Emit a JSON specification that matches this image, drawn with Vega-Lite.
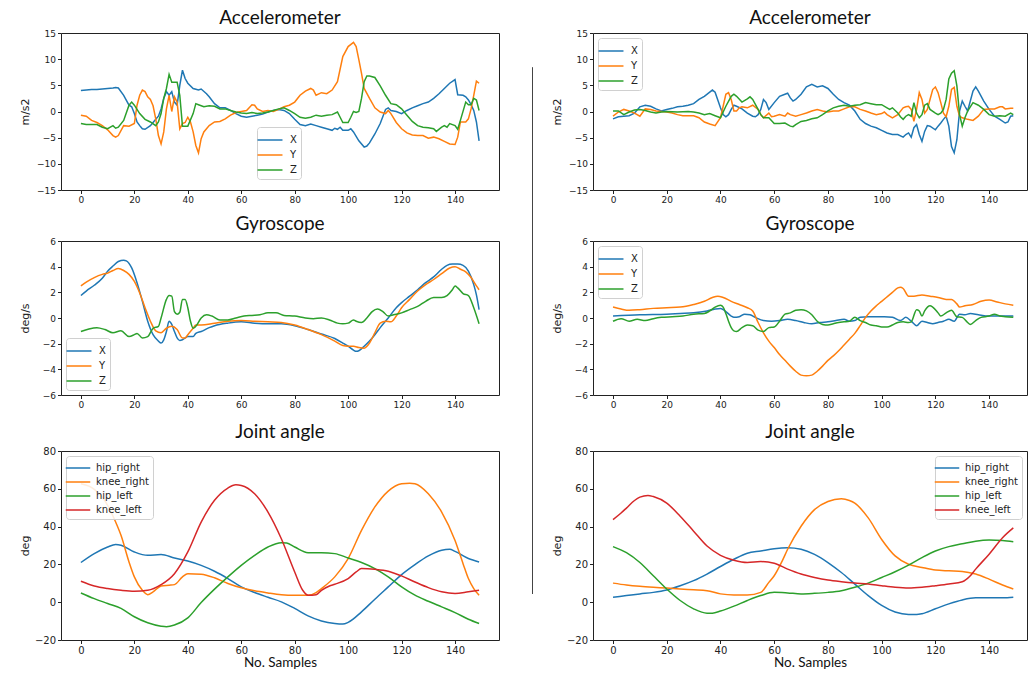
{
"$schema":"https://vega.github.io/schema/vega-lite/v6.json",
"padding":{"left":18,"top":8,"right":0,"bottom":0},
"config":{
"font":"DejaVu Sans",
"view":{"stroke":"#222","strokeWidth":1},
"axis":{"grid":false,"domain":false,"tickColor":"#222","tickSize":3.5,"tickWidth":1,"labelFont":"DejaVu Sans","labelFontSize":9,"labelColor":"#222","labelPadding":2,"titleFont":"DejaVu Sans","titleFontSize":11,"titleFontWeight":"normal","titleColor":"#222"},
"axisY":{"minExtent":24,"maxExtent":24,"titlePadding":7},
"axisX":{"titleFont":"Lato","titleFontSize":13.5,"titlePadding":0,"titleColor":"#111"},
"title":{"font":"Lato","fontSize":19,"fontWeight":"normal","color":"#111"},
"legend":{"strokeColor":"#d0d0d0","fillColor":"rgba(255,255,255,0.85)","cornerRadius":3,"padding":4,"labelFont":"DejaVu Sans","labelFontSize":10,"labelColor":"#222","symbolType":"M-1.56,0H1.56","symbolSize":256,"symbolStrokeWidth":1.5,"labelOffset":11,"rowPadding":1,"offset":5}
},
"datasets":{
"la":[
{"t":0,"s":"X","v":4.0},{"t":2,"s":"X","v":4.1},{"t":4,"s":"X","v":4.2},{"t":6,"s":"X","v":4.2},{"t":8,"s":"X","v":4.3},{"t":10,"s":"X","v":4.4},{"t":12,"s":"X","v":4.5},{"t":13,"s":"X","v":4.6},{"t":14,"s":"X","v":4.5},{"t":16,"s":"X","v":3.1},{"t":18,"s":"X","v":1.2},{"t":19,"s":"X","v":0.9},{"t":20,"s":"X","v":-0.4},{"t":21,"s":"X","v":-2},{"t":22,"s":"X","v":-2.7},{"t":23,"s":"X","v":-3.3},{"t":24,"s":"X","v":-3.4},{"t":26,"s":"X","v":-2.7},{"t":27,"s":"X","v":-2.1},{"t":28,"s":"X","v":-1.5},{"t":29,"s":"X","v":-0.9},{"t":30,"s":"X","v":0.5},{"t":31,"s":"X","v":2.5},{"t":32,"s":"X","v":3.8},{"t":33,"s":"X","v":3.1},{"t":34,"s":"X","v":3.8},{"t":35,"s":"X","v":1.8},{"t":36,"s":"X","v":1.2},{"t":37,"s":"X","v":5},{"t":38,"s":"X","v":7.9},{"t":39,"s":"X","v":6.3},{"t":40,"s":"X","v":5.4},{"t":42,"s":"X","v":4.4},{"t":44,"s":"X","v":4.1},{"t":45,"s":"X","v":4.3},{"t":47,"s":"X","v":3.4},{"t":48,"s":"X","v":2.8},{"t":50,"s":"X","v":1.5},{"t":52,"s":"X","v":0.7},{"t":54,"s":"X","v":0.7},{"t":56,"s":"X","v":0.2},{"t":58,"s":"X","v":-0.4},{"t":60,"s":"X","v":-0.9},{"t":62,"s":"X","v":-1.1},{"t":64,"s":"X","v":-0.9},{"t":66,"s":"X","v":-0.7},{"t":68,"s":"X","v":-0.5},{"t":70,"s":"X","v":-0.1},{"t":72,"s":"X","v":0.2},{"t":74,"s":"X","v":0.4},{"t":76,"s":"X","v":0.2},{"t":78,"s":"X","v":-0.4},{"t":80,"s":"X","v":-1.5},{"t":82,"s":"X","v":-2.5},{"t":84,"s":"X","v":-2.7},{"t":86,"s":"X","v":-2.4},{"t":88,"s":"X","v":-2.7},{"t":90,"s":"X","v":-3},{"t":92,"s":"X","v":-3.3},{"t":94,"s":"X","v":-3.6},{"t":95,"s":"X","v":-3.2},{"t":96,"s":"X","v":-3.4},{"t":97,"s":"X","v":-3},{"t":98,"s":"X","v":-3.6},{"t":100,"s":"X","v":-3.6},{"t":101,"s":"X","v":-3.3},{"t":102,"s":"X","v":-3.9},{"t":104,"s":"X","v":-5.6},{"t":106,"s":"X","v":-6.8},{"t":107,"s":"X","v":-6.6},{"t":108,"s":"X","v":-6},{"t":110,"s":"X","v":-4.3},{"t":112,"s":"X","v":-2.3},{"t":114,"s":"X","v":0.4},{"t":115,"s":"X","v":0.7},{"t":116,"s":"X","v":0.2},{"t":118,"s":"X","v":0},{"t":120,"s":"X","v":-0.4},{"t":122,"s":"X","v":0.2},{"t":124,"s":"X","v":0.7},{"t":126,"s":"X","v":1.1},{"t":128,"s":"X","v":1.5},{"t":130,"s":"X","v":1.8},{"t":132,"s":"X","v":2.5},{"t":134,"s":"X","v":3.4},{"t":136,"s":"X","v":4.4},{"t":138,"s":"X","v":5.4},{"t":140,"s":"X","v":6.1},{"t":141,"s":"X","v":3.2},{"t":143,"s":"X","v":3.1},{"t":144,"s":"X","v":2.8},{"t":145,"s":"X","v":2.2},{"t":146,"s":"X","v":1.3},{"t":147,"s":"X","v":0.2},{"t":148,"s":"X","v":-2},{"t":149,"s":"X","v":-5.6},
{"t":0,"s":"Y","v":-0.7},{"t":2,"s":"Y","v":-0.9},{"t":4,"s":"Y","v":-1.7},{"t":6,"s":"Y","v":-2.1},{"t":8,"s":"Y","v":-2.7},{"t":10,"s":"Y","v":-3.5},{"t":12,"s":"Y","v":-4.6},{"t":13,"s":"Y","v":-4.9},{"t":14,"s":"Y","v":-4.6},{"t":16,"s":"Y","v":-2.7},{"t":18,"s":"Y","v":-2.8},{"t":20,"s":"Y","v":-2.3},{"t":21,"s":"Y","v":1.2},{"t":22,"s":"Y","v":3.1},{"t":23,"s":"Y","v":4.1},{"t":24,"s":"Y","v":3.8},{"t":25,"s":"Y","v":2.8},{"t":26,"s":"Y","v":2.3},{"t":27,"s":"Y","v":1.1},{"t":28,"s":"Y","v":-1.4},{"t":29,"s":"Y","v":-4.6},{"t":30,"s":"Y","v":-6.2},{"t":31,"s":"Y","v":-3.9},{"t":32,"s":"Y","v":0.5},{"t":33,"s":"Y","v":3.1},{"t":34,"s":"Y","v":0},{"t":35,"s":"Y","v":2.8},{"t":36,"s":"Y","v":1.8},{"t":37,"s":"Y","v":-3.3},{"t":38,"s":"Y","v":-2.3},{"t":39,"s":"Y","v":-2.1},{"t":40,"s":"Y","v":-1.1},{"t":41,"s":"Y","v":-2},{"t":42,"s":"Y","v":-3.9},{"t":43,"s":"Y","v":-6.5},{"t":44,"s":"Y","v":-7.9},{"t":45,"s":"Y","v":-5.2},{"t":46,"s":"Y","v":-3.9},{"t":48,"s":"Y","v":-2.7},{"t":50,"s":"Y","v":-2},{"t":52,"s":"Y","v":-1.9},{"t":54,"s":"Y","v":-1.4},{"t":56,"s":"Y","v":-0.7},{"t":58,"s":"Y","v":-0.2},{"t":60,"s":"Y","v":0},{"t":62,"s":"Y","v":0.2},{"t":64,"s":"Y","v":1.3},{"t":65,"s":"Y","v":1.2},{"t":66,"s":"Y","v":0.5},{"t":68,"s":"Y","v":0},{"t":70,"s":"Y","v":0.2},{"t":72,"s":"Y","v":0},{"t":74,"s":"Y","v":0.4},{"t":76,"s":"Y","v":0.9},{"t":78,"s":"Y","v":1.2},{"t":80,"s":"Y","v":1.8},{"t":82,"s":"Y","v":3.1},{"t":84,"s":"Y","v":3.9},{"t":86,"s":"Y","v":4.4},{"t":87,"s":"Y","v":4.1},{"t":88,"s":"Y","v":3.1},{"t":90,"s":"Y","v":3.6},{"t":92,"s":"Y","v":3.4},{"t":94,"s":"Y","v":4.1},{"t":96,"s":"Y","v":5.7},{"t":98,"s":"Y","v":10.5},{"t":100,"s":"Y","v":12.4},{"t":102,"s":"Y","v":13.2},{"t":103,"s":"Y","v":12.4},{"t":104,"s":"Y","v":9.9},{"t":105,"s":"Y","v":7.3},{"t":106,"s":"Y","v":4.4},{"t":108,"s":"Y","v":2.5},{"t":110,"s":"Y","v":0.7},{"t":112,"s":"Y","v":-0.1},{"t":114,"s":"Y","v":-0.4},{"t":115,"s":"Y","v":0.2},{"t":116,"s":"Y","v":-0.4},{"t":118,"s":"Y","v":-2.1},{"t":120,"s":"Y","v":-3.3},{"t":122,"s":"Y","v":-4.1},{"t":124,"s":"Y","v":-4.5},{"t":126,"s":"Y","v":-4.6},{"t":128,"s":"Y","v":-4.6},{"t":130,"s":"Y","v":-5.1},{"t":132,"s":"Y","v":-4.9},{"t":134,"s":"Y","v":-5.2},{"t":136,"s":"Y","v":-5.7},{"t":138,"s":"Y","v":-6.2},{"t":140,"s":"Y","v":-6.3},{"t":141,"s":"Y","v":-4.9},{"t":142,"s":"Y","v":-2},{"t":144,"s":"Y","v":-2},{"t":145,"s":"Y","v":-1.4},{"t":146,"s":"Y","v":0.5},{"t":147,"s":"Y","v":3.1},{"t":148,"s":"Y","v":5.8},{"t":149,"s":"Y","v":5.4},
{"t":0,"s":"Z","v":-2.3},{"t":2,"s":"Z","v":-2.5},{"t":6,"s":"Z","v":-2.5},{"t":8,"s":"Z","v":-3},{"t":10,"s":"Z","v":-3.3},{"t":12,"s":"Z","v":-2.7},{"t":13,"s":"Z","v":-3.2},{"t":14,"s":"Z","v":-3},{"t":16,"s":"Z","v":-1.7},{"t":18,"s":"Z","v":1.2},{"t":19,"s":"Z","v":1.8},{"t":20,"s":"Z","v":1.2},{"t":22,"s":"Z","v":-0.4},{"t":24,"s":"Z","v":-1.5},{"t":26,"s":"Z","v":-2},{"t":28,"s":"Z","v":-2.7},{"t":29,"s":"Z","v":-2},{"t":30,"s":"Z","v":-0.4},{"t":31,"s":"Z","v":2.5},{"t":32,"s":"Z","v":4.4},{"t":33,"s":"Z","v":7.1},{"t":34,"s":"Z","v":5.6},{"t":36,"s":"Z","v":5.6},{"t":37,"s":"Z","v":3.1},{"t":38,"s":"Z","v":-2.8},{"t":40,"s":"Z","v":-2.8},{"t":42,"s":"Z","v":-0.4},{"t":43,"s":"Z","v":1.5},{"t":44,"s":"Z","v":1.3},{"t":46,"s":"Z","v":0.9},{"t":48,"s":"Z","v":1.1},{"t":50,"s":"Z","v":1},{"t":52,"s":"Z","v":0.5},{"t":54,"s":"Z","v":0.5},{"t":56,"s":"Z","v":0.2},{"t":58,"s":"Z","v":-0.1},{"t":60,"s":"Z","v":-0.3},{"t":62,"s":"Z","v":-0.4},{"t":64,"s":"Z","v":-0.2},{"t":66,"s":"Z","v":-0.4},{"t":68,"s":"Z","v":-0.3},{"t":70,"s":"Z","v":-0.1},{"t":72,"s":"Z","v":0.2},{"t":74,"s":"Z","v":0.5},{"t":76,"s":"Z","v":0.7},{"t":78,"s":"Z","v":0.2},{"t":80,"s":"Z","v":-0.4},{"t":82,"s":"Z","v":-1.1},{"t":84,"s":"Z","v":-1.3},{"t":86,"s":"Z","v":-1.1},{"t":88,"s":"Z","v":-0.7},{"t":90,"s":"Z","v":-0.9},{"t":92,"s":"Z","v":-0.7},{"t":94,"s":"Z","v":-0.6},{"t":96,"s":"Z","v":-0.1},{"t":97,"s":"Z","v":-1.1},{"t":98,"s":"Z","v":-2.1},{"t":100,"s":"Z","v":-2.1},{"t":101,"s":"Z","v":-1.1},{"t":102,"s":"Z","v":0},{"t":103,"s":"Z","v":-0.2},{"t":104,"s":"Z","v":0},{"t":105,"s":"Z","v":2.5},{"t":106,"s":"Z","v":5.7},{"t":107,"s":"Z","v":6.8},{"t":108,"s":"Z","v":6.8},{"t":110,"s":"Z","v":6.5},{"t":112,"s":"Z","v":4.9},{"t":114,"s":"Z","v":3.1},{"t":116,"s":"Z","v":1.5},{"t":118,"s":"Z","v":1.3},{"t":120,"s":"Z","v":0.5},{"t":122,"s":"Z","v":-0.7},{"t":124,"s":"Z","v":-1.9},{"t":126,"s":"Z","v":-2.7},{"t":128,"s":"Z","v":-3},{"t":130,"s":"Z","v":-3.1},{"t":132,"s":"Z","v":-3.3},{"t":133,"s":"Z","v":-3.8},{"t":135,"s":"Z","v":-3},{"t":136,"s":"Z","v":-2.7},{"t":137,"s":"Z","v":-3},{"t":138,"s":"Z","v":-2.3},{"t":140,"s":"Z","v":-2.7},{"t":141,"s":"Z","v":-3.4},{"t":142,"s":"Z","v":-1.7},{"t":144,"s":"Z","v":1.8},{"t":145,"s":"Z","v":1.3},{"t":146,"s":"Z","v":1.3},{"t":147,"s":"Z","v":2.5},{"t":148,"s":"Z","v":2.2},{"t":149,"s":"Z","v":0.2}
],
"ra":[
{"t":0,"s":"X","v":-1.4},{"t":2,"s":"X","v":-1},{"t":4,"s":"X","v":-0.9},{"t":6,"s":"X","v":-0.8},{"t":8,"s":"X","v":-0.3},{"t":10,"s":"X","v":0.9},{"t":12,"s":"X","v":1.2},{"t":14,"s":"X","v":1},{"t":16,"s":"X","v":0.5},{"t":18,"s":"X","v":0.1},{"t":20,"s":"X","v":0.4},{"t":22,"s":"X","v":0.6},{"t":24,"s":"X","v":0.9},{"t":26,"s":"X","v":1},{"t":28,"s":"X","v":1.2},{"t":30,"s":"X","v":1.5},{"t":32,"s":"X","v":2.3},{"t":34,"s":"X","v":2.9},{"t":36,"s":"X","v":3.7},{"t":37,"s":"X","v":4.1},{"t":38,"s":"X","v":3.7},{"t":40,"s":"X","v":0.7},{"t":41,"s":"X","v":-0.6},{"t":42,"s":"X","v":-1},{"t":43,"s":"X","v":-0.6},{"t":44,"s":"X","v":0.4},{"t":45,"s":"X","v":1.2},{"t":46,"s":"X","v":1},{"t":48,"s":"X","v":0.5},{"t":50,"s":"X","v":-0.3},{"t":52,"s":"X","v":-0.9},{"t":53,"s":"X","v":-1},{"t":54,"s":"X","v":-0.6},{"t":55,"s":"X","v":0.4},{"t":56,"s":"X","v":2.3},{"t":57,"s":"X","v":1.7},{"t":58,"s":"X","v":0.4},{"t":60,"s":"X","v":1.7},{"t":62,"s":"X","v":2.9},{"t":64,"s":"X","v":3.3},{"t":65,"s":"X","v":3.5},{"t":66,"s":"X","v":2.6},{"t":67,"s":"X","v":2},{"t":68,"s":"X","v":2.3},{"t":70,"s":"X","v":3.3},{"t":72,"s":"X","v":4.7},{"t":74,"s":"X","v":5.2},{"t":76,"s":"X","v":4.7},{"t":78,"s":"X","v":4.9},{"t":80,"s":"X","v":4.4},{"t":82,"s":"X","v":3.3},{"t":84,"s":"X","v":2.3},{"t":86,"s":"X","v":1.7},{"t":88,"s":"X","v":1.2},{"t":90,"s":"X","v":0.1},{"t":92,"s":"X","v":-1.5},{"t":94,"s":"X","v":-2.3},{"t":96,"s":"X","v":-2.8},{"t":98,"s":"X","v":-3.1},{"t":100,"s":"X","v":-3.6},{"t":102,"s":"X","v":-4.1},{"t":104,"s":"X","v":-4.4},{"t":106,"s":"X","v":-4.4},{"t":108,"s":"X","v":-4.9},{"t":109,"s":"X","v":-4.4},{"t":110,"s":"X","v":-4.1},{"t":111,"s":"X","v":-4.9},{"t":112,"s":"X","v":-3.1},{"t":113,"s":"X","v":-2.5},{"t":114,"s":"X","v":-4.4},{"t":115,"s":"X","v":-5.7},{"t":116,"s":"X","v":-3.8},{"t":117,"s":"X","v":-2.7},{"t":118,"s":"X","v":-2.8},{"t":120,"s":"X","v":-3.5},{"t":121,"s":"X","v":-2.8},{"t":122,"s":"X","v":-2.2},{"t":123,"s":"X","v":-1.5},{"t":124,"s":"X","v":-0.9},{"t":125,"s":"X","v":-2.8},{"t":126,"s":"X","v":-6.7},{"t":127,"s":"X","v":-7.9},{"t":128,"s":"X","v":-5.4},{"t":129,"s":"X","v":0.1},{"t":130,"s":"X","v":2},{"t":131,"s":"X","v":1},{"t":132,"s":"X","v":0.1},{"t":134,"s":"X","v":3.9},{"t":135,"s":"X","v":4.7},{"t":136,"s":"X","v":3.9},{"t":138,"s":"X","v":2},{"t":140,"s":"X","v":0.4},{"t":142,"s":"X","v":-0.9},{"t":144,"s":"X","v":-1.5},{"t":146,"s":"X","v":-2.2},{"t":147,"s":"X","v":-2},{"t":148,"s":"X","v":-0.9},{"t":149,"s":"X","v":-0.8},
{"t":0,"s":"Y","v":-0.9},{"t":2,"s":"Y","v":-0.1},{"t":4,"s":"Y","v":0.4},{"t":6,"s":"Y","v":0.1},{"t":8,"s":"Y","v":-0.3},{"t":10,"s":"Y","v":-0.9},{"t":12,"s":"Y","v":0.5},{"t":14,"s":"Y","v":0.4},{"t":16,"s":"Y","v":0.1},{"t":18,"s":"Y","v":0},{"t":20,"s":"Y","v":-0.1},{"t":22,"s":"Y","v":-0.3},{"t":24,"s":"Y","v":-0.6},{"t":26,"s":"Y","v":-0.8},{"t":28,"s":"Y","v":-0.8},{"t":30,"s":"Y","v":-0.8},{"t":32,"s":"Y","v":-1.2},{"t":34,"s":"Y","v":-2},{"t":36,"s":"Y","v":-2.4},{"t":38,"s":"Y","v":-2.7},{"t":40,"s":"Y","v":-1.2},{"t":41,"s":"Y","v":1},{"t":42,"s":"Y","v":3.3},{"t":43,"s":"Y","v":3.6},{"t":44,"s":"Y","v":2.3},{"t":45,"s":"Y","v":0.1},{"t":46,"s":"Y","v":0.1},{"t":47,"s":"Y","v":0.7},{"t":48,"s":"Y","v":0.9},{"t":50,"s":"Y","v":0.7},{"t":52,"s":"Y","v":1.2},{"t":54,"s":"Y","v":0.4},{"t":55,"s":"Y","v":-0.6},{"t":56,"s":"Y","v":-1.2},{"t":58,"s":"Y","v":-0.3},{"t":59,"s":"Y","v":-1},{"t":60,"s":"Y","v":-0.9},{"t":62,"s":"Y","v":-0.6},{"t":64,"s":"Y","v":-0.9},{"t":65,"s":"Y","v":-0.3},{"t":66,"s":"Y","v":-0.6},{"t":68,"s":"Y","v":-0.9},{"t":70,"s":"Y","v":-0.6},{"t":72,"s":"Y","v":-0.3},{"t":74,"s":"Y","v":0.1},{"t":76,"s":"Y","v":0.4},{"t":78,"s":"Y","v":0.1},{"t":80,"s":"Y","v":-0.1},{"t":82,"s":"Y","v":0.1},{"t":84,"s":"Y","v":0.1},{"t":86,"s":"Y","v":0.5},{"t":88,"s":"Y","v":0.9},{"t":90,"s":"Y","v":0.9},{"t":92,"s":"Y","v":0.4},{"t":94,"s":"Y","v":0.1},{"t":96,"s":"Y","v":-0.3},{"t":98,"s":"Y","v":-0.6},{"t":100,"s":"Y","v":-0.4},{"t":101,"s":"Y","v":-0.1},{"t":102,"s":"Y","v":-0.6},{"t":104,"s":"Y","v":-1.2},{"t":106,"s":"Y","v":-0.6},{"t":108,"s":"Y","v":0.7},{"t":109,"s":"Y","v":0.9},{"t":110,"s":"Y","v":1},{"t":111,"s":"Y","v":0.4},{"t":112,"s":"Y","v":-1.9},{"t":113,"s":"Y","v":0.4},{"t":114,"s":"Y","v":3.6},{"t":115,"s":"Y","v":2.3},{"t":116,"s":"Y","v":-0.3},{"t":117,"s":"Y","v":0.4},{"t":118,"s":"Y","v":2.3},{"t":119,"s":"Y","v":4.2},{"t":120,"s":"Y","v":4.7},{"t":121,"s":"Y","v":3.6},{"t":122,"s":"Y","v":1.7},{"t":123,"s":"Y","v":-0.3},{"t":124,"s":"Y","v":-1},{"t":125,"s":"Y","v":1},{"t":126,"s":"Y","v":4.2},{"t":127,"s":"Y","v":4.6},{"t":128,"s":"Y","v":1},{"t":129,"s":"Y","v":-0.9},{"t":130,"s":"Y","v":-1.2},{"t":132,"s":"Y","v":-1.5},{"t":134,"s":"Y","v":-1.7},{"t":136,"s":"Y","v":-0.9},{"t":138,"s":"Y","v":0.4},{"t":140,"s":"Y","v":0.5},{"t":142,"s":"Y","v":0.5},{"t":144,"s":"Y","v":0.9},{"t":145,"s":"Y","v":0.9},{"t":146,"s":"Y","v":0.5},{"t":148,"s":"Y","v":0.6},{"t":149,"s":"Y","v":0.6},
{"t":0,"s":"Z","v":0.1},{"t":2,"s":"Z","v":0.1},{"t":4,"s":"Z","v":-0.6},{"t":6,"s":"Z","v":-0.1},{"t":8,"s":"Z","v":0.3},{"t":10,"s":"Z","v":0.4},{"t":12,"s":"Z","v":0.2},{"t":14,"s":"Z","v":-0.1},{"t":16,"s":"Z","v":-0.3},{"t":18,"s":"Z","v":-0.1},{"t":20,"s":"Z","v":0},{"t":24,"s":"Z","v":-0.1},{"t":28,"s":"Z","v":0},{"t":30,"s":"Z","v":-0.1},{"t":32,"s":"Z","v":-0.3},{"t":34,"s":"Z","v":-0.6},{"t":36,"s":"Z","v":-0.4},{"t":38,"s":"Z","v":-0.8},{"t":40,"s":"Z","v":-1.2},{"t":42,"s":"Z","v":1},{"t":44,"s":"Z","v":2.9},{"t":45,"s":"Z","v":3.3},{"t":46,"s":"Z","v":2.9},{"t":48,"s":"Z","v":1.8},{"t":50,"s":"Z","v":2.4},{"t":51,"s":"Z","v":2.8},{"t":52,"s":"Z","v":2.3},{"t":54,"s":"Z","v":0.4},{"t":55,"s":"Z","v":-0.6},{"t":56,"s":"Z","v":-1.2},{"t":58,"s":"Z","v":-1.2},{"t":60,"s":"Z","v":-2.3},{"t":62,"s":"Z","v":-2.3},{"t":64,"s":"Z","v":-2.2},{"t":66,"s":"Z","v":-2.8},{"t":67,"s":"Z","v":-2.9},{"t":68,"s":"Z","v":-2.5},{"t":70,"s":"Z","v":-1.9},{"t":72,"s":"Z","v":-1.7},{"t":74,"s":"Z","v":-1.4},{"t":76,"s":"Z","v":-1.2},{"t":78,"s":"Z","v":-0.6},{"t":80,"s":"Z","v":0.1},{"t":82,"s":"Z","v":0.7},{"t":84,"s":"Z","v":1},{"t":86,"s":"Z","v":1.2},{"t":88,"s":"Z","v":1},{"t":90,"s":"Z","v":1.2},{"t":92,"s":"Z","v":1.3},{"t":94,"s":"Z","v":1.7},{"t":96,"s":"Z","v":1.5},{"t":98,"s":"Z","v":1.3},{"t":100,"s":"Z","v":1.3},{"t":102,"s":"Z","v":0.7},{"t":103,"s":"Z","v":0.4},{"t":104,"s":"Z","v":0.7},{"t":106,"s":"Z","v":-0.3},{"t":107,"s":"Z","v":-1},{"t":108,"s":"Z","v":-1.5},{"t":109,"s":"Z","v":-0.9},{"t":110,"s":"Z","v":-0.6},{"t":111,"s":"Z","v":-0.9},{"t":112,"s":"Z","v":1.7},{"t":113,"s":"Z","v":-0.3},{"t":114,"s":"Z","v":-1.2},{"t":115,"s":"Z","v":-0.6},{"t":116,"s":"Z","v":1.2},{"t":117,"s":"Z","v":1.5},{"t":118,"s":"Z","v":0.4},{"t":120,"s":"Z","v":-0.3},{"t":121,"s":"Z","v":-0.6},{"t":122,"s":"Z","v":-0.3},{"t":123,"s":"Z","v":0.4},{"t":124,"s":"Z","v":2.3},{"t":125,"s":"Z","v":6.2},{"t":126,"s":"Z","v":7.3},{"t":127,"s":"Z","v":7.8},{"t":128,"s":"Z","v":4.9},{"t":129,"s":"Z","v":-0.6},{"t":130,"s":"Z","v":-2.8},{"t":131,"s":"Z","v":-1.2},{"t":132,"s":"Z","v":0.1},{"t":134,"s":"Z","v":1.7},{"t":136,"s":"Z","v":1.2},{"t":138,"s":"Z","v":0.4},{"t":140,"s":"Z","v":-0.6},{"t":142,"s":"Z","v":-0.9},{"t":144,"s":"Z","v":-0.8},{"t":146,"s":"Z","v":-0.9},{"t":148,"s":"Z","v":-0.3},{"t":149,"s":"Z","v":-0.6}
],
"lg":[
{"t":0,"s":"X","v":1.75},{"t":2,"s":"X","v":2.1},{"t":5,"s":"X","v":2.55},{"t":8,"s":"X","v":3.1},{"t":10,"s":"X","v":3.65},{"t":12,"s":"X","v":4.05},{"t":14,"s":"X","v":4.4},{"t":16,"s":"X","v":4.5},{"t":17,"s":"X","v":4.45},{"t":19,"s":"X","v":3.9},{"t":21,"s":"X","v":2.75},{"t":23,"s":"X","v":1.3},{"t":25,"s":"X","v":-0.25},{"t":27,"s":"X","v":-1.3},{"t":29,"s":"X","v":-1.8},{"t":30,"s":"X","v":-1.95},{"t":31,"s":"X","v":-1.7},{"t":32,"s":"X","v":-1.05},{"t":33,"s":"X","v":-0.25},{"t":34,"s":"X","v":-0.5},{"t":35,"s":"X","v":-1.05},{"t":36,"s":"X","v":-1.55},{"t":37,"s":"X","v":-1.75},{"t":38,"s":"X","v":-1.7},{"t":40,"s":"X","v":-1.45},{"t":42,"s":"X","v":-1.45},{"t":43,"s":"X","v":-1.2},{"t":45,"s":"X","v":-1.05},{"t":48,"s":"X","v":-0.75},{"t":50,"s":"X","v":-0.6},{"t":55,"s":"X","v":-0.4},{"t":60,"s":"X","v":-0.3},{"t":65,"s":"X","v":-0.4},{"t":70,"s":"X","v":-0.45},{"t":75,"s":"X","v":-0.45},{"t":80,"s":"X","v":-0.6},{"t":85,"s":"X","v":-0.9},{"t":90,"s":"X","v":-1.25},{"t":95,"s":"X","v":-1.6},{"t":98,"s":"X","v":-1.95},{"t":100,"s":"X","v":-2.2},{"t":102,"s":"X","v":-2.5},{"t":103,"s":"X","v":-2.6},{"t":104,"s":"X","v":-2.55},{"t":106,"s":"X","v":-2.2},{"t":108,"s":"X","v":-1.8},{"t":110,"s":"X","v":-1.3},{"t":112,"s":"X","v":-0.75},{"t":115,"s":"X","v":0},{"t":118,"s":"X","v":0.8},{"t":120,"s":"X","v":1.2},{"t":123,"s":"X","v":1.7},{"t":126,"s":"X","v":2.2},{"t":129,"s":"X","v":2.75},{"t":132,"s":"X","v":3.2},{"t":135,"s":"X","v":3.8},{"t":137,"s":"X","v":4.1},{"t":139,"s":"X","v":4.2},{"t":141,"s":"X","v":4.2},{"t":143,"s":"X","v":4.1},{"t":145,"s":"X","v":3.65},{"t":147,"s":"X","v":2.6},{"t":148,"s":"X","v":1.8},{"t":149,"s":"X","v":0.65},
{"t":0,"s":"Y","v":2.5},{"t":2,"s":"Y","v":2.8},{"t":5,"s":"Y","v":3.15},{"t":8,"s":"Y","v":3.4},{"t":10,"s":"Y","v":3.5},{"t":12,"s":"Y","v":3.7},{"t":14,"s":"Y","v":3.85},{"t":16,"s":"Y","v":3.7},{"t":18,"s":"Y","v":3.4},{"t":20,"s":"Y","v":2.85},{"t":22,"s":"Y","v":1.95},{"t":24,"s":"Y","v":0.8},{"t":26,"s":"Y","v":-0.25},{"t":28,"s":"Y","v":-1},{"t":30,"s":"Y","v":-1.15},{"t":32,"s":"Y","v":-0.8},{"t":34,"s":"Y","v":-0.65},{"t":36,"s":"Y","v":-0.9},{"t":38,"s":"Y","v":-1.55},{"t":39,"s":"Y","v":-1.55},{"t":40,"s":"Y","v":-1.3},{"t":42,"s":"Y","v":-0.8},{"t":43,"s":"Y","v":-0.55},{"t":45,"s":"Y","v":-0.55},{"t":50,"s":"Y","v":-0.4},{"t":55,"s":"Y","v":-0.25},{"t":60,"s":"Y","v":-0.2},{"t":65,"s":"Y","v":-0.25},{"t":70,"s":"Y","v":-0.3},{"t":75,"s":"Y","v":-0.35},{"t":80,"s":"Y","v":-0.55},{"t":85,"s":"Y","v":-0.9},{"t":90,"s":"Y","v":-1.3},{"t":95,"s":"Y","v":-1.8},{"t":98,"s":"Y","v":-2.15},{"t":100,"s":"Y","v":-2.2},{"t":102,"s":"Y","v":-2.2},{"t":104,"s":"Y","v":-2.3},{"t":106,"s":"Y","v":-2.35},{"t":108,"s":"Y","v":-1.95},{"t":110,"s":"Y","v":-1.15},{"t":112,"s":"Y","v":-0.4},{"t":114,"s":"Y","v":-0.25},{"t":116,"s":"Y","v":-0.3},{"t":118,"s":"Y","v":0.15},{"t":120,"s":"Y","v":0.8},{"t":123,"s":"Y","v":1.45},{"t":126,"s":"Y","v":2.1},{"t":129,"s":"Y","v":2.6},{"t":132,"s":"Y","v":3},{"t":135,"s":"Y","v":3.45},{"t":138,"s":"Y","v":3.9},{"t":140,"s":"Y","v":4},{"t":142,"s":"Y","v":3.8},{"t":144,"s":"Y","v":3.6},{"t":146,"s":"Y","v":3.15},{"t":148,"s":"Y","v":2.5},{"t":149,"s":"Y","v":2.2},
{"t":0,"s":"Z","v":-1.05},{"t":3,"s":"Z","v":-0.85},{"t":6,"s":"Z","v":-0.75},{"t":9,"s":"Z","v":-0.9},{"t":12,"s":"Z","v":-1.15},{"t":15,"s":"Z","v":-1},{"t":18,"s":"Z","v":-1.45},{"t":20,"s":"Z","v":-1.3},{"t":21,"s":"Z","v":-1.2},{"t":23,"s":"Z","v":-1.55},{"t":25,"s":"Z","v":-1.45},{"t":27,"s":"Z","v":-0.8},{"t":29,"s":"Z","v":-0.65},{"t":30,"s":"Z","v":0},{"t":32,"s":"Z","v":1.45},{"t":33,"s":"Z","v":1.75},{"t":34,"s":"Z","v":1.7},{"t":35,"s":"Z","v":0.5},{"t":36,"s":"Z","v":0.3},{"t":37,"s":"Z","v":0.45},{"t":38,"s":"Z","v":1.45},{"t":39,"s":"Z","v":1.45},{"t":40,"s":"Z","v":0.8},{"t":41,"s":"Z","v":-0.25},{"t":42,"s":"Z","v":-0.8},{"t":43,"s":"Z","v":-0.65},{"t":45,"s":"Z","v":0},{"t":47,"s":"Z","v":0.25},{"t":49,"s":"Z","v":0.15},{"t":52,"s":"Z","v":-0.15},{"t":55,"s":"Z","v":-0.15},{"t":58,"s":"Z","v":0},{"t":61,"s":"Z","v":0.15},{"t":64,"s":"Z","v":0.2},{"t":67,"s":"Z","v":0.25},{"t":70,"s":"Z","v":0.4},{"t":73,"s":"Z","v":0.4},{"t":76,"s":"Z","v":0.2},{"t":80,"s":"Z","v":0.15},{"t":84,"s":"Z","v":0},{"t":87,"s":"Z","v":-0.05},{"t":90,"s":"Z","v":0},{"t":93,"s":"Z","v":-0.15},{"t":96,"s":"Z","v":-0.4},{"t":98,"s":"Z","v":-0.45},{"t":100,"s":"Z","v":-0.4},{"t":102,"s":"Z","v":-0.15},{"t":103,"s":"Z","v":-0.25},{"t":105,"s":"Z","v":-0.35},{"t":107,"s":"Z","v":0},{"t":109,"s":"Z","v":0.5},{"t":111,"s":"Z","v":0.7},{"t":113,"s":"Z","v":0.5},{"t":115,"s":"Z","v":0.15},{"t":117,"s":"Z","v":0.25},{"t":120,"s":"Z","v":0.4},{"t":123,"s":"Z","v":0.65},{"t":126,"s":"Z","v":0.9},{"t":129,"s":"Z","v":1.3},{"t":132,"s":"Z","v":1.6},{"t":135,"s":"Z","v":1.6},{"t":137,"s":"Z","v":1.75},{"t":139,"s":"Z","v":2.2},{"t":140,"s":"Z","v":2.5},{"t":141,"s":"Z","v":2.35},{"t":143,"s":"Z","v":1.9},{"t":145,"s":"Z","v":1.75},{"t":147,"s":"Z","v":0.8},{"t":149,"s":"Z","v":-0.45}
],
"rg":[
{"t":0,"s":"X","v":0.15},{"t":10,"s":"X","v":0.25},{"t":20,"s":"X","v":0.3},{"t":25,"s":"X","v":0.35},{"t":30,"s":"X","v":0.4},{"t":35,"s":"X","v":0.55},{"t":38,"s":"X","v":0.7},{"t":40,"s":"X","v":0.75},{"t":42,"s":"X","v":0.5},{"t":44,"s":"X","v":0.15},{"t":45,"s":"X","v":0.05},{"t":47,"s":"X","v":0.1},{"t":49,"s":"X","v":0.3},{"t":51,"s":"X","v":0.25},{"t":53,"s":"X","v":0.05},{"t":56,"s":"X","v":-0.2},{"t":59,"s":"X","v":-0.25},{"t":62,"s":"X","v":-0.2},{"t":65,"s":"X","v":-0.1},{"t":68,"s":"X","v":-0.2},{"t":71,"s":"X","v":-0.35},{"t":74,"s":"X","v":-0.45},{"t":77,"s":"X","v":-0.35},{"t":80,"s":"X","v":-0.3},{"t":83,"s":"X","v":-0.2},{"t":86,"s":"X","v":-0.1},{"t":88,"s":"X","v":-0.25},{"t":90,"s":"X","v":-0.2},{"t":92,"s":"X","v":0.05},{"t":95,"s":"X","v":0.1},{"t":98,"s":"X","v":0.1},{"t":101,"s":"X","v":0.1},{"t":104,"s":"X","v":0.05},{"t":107,"s":"X","v":-0.2},{"t":109,"s":"X","v":0.05},{"t":111,"s":"X","v":-0.25},{"t":113,"s":"X","v":-0.6},{"t":115,"s":"X","v":-0.25},{"t":117,"s":"X","v":-0.35},{"t":119,"s":"X","v":-0.45},{"t":121,"s":"X","v":-0.35},{"t":123,"s":"X","v":-0.25},{"t":125,"s":"X","v":-0.1},{"t":127,"s":"X","v":-0.25},{"t":129,"s":"X","v":0.3},{"t":131,"s":"X","v":0.25},{"t":133,"s":"X","v":0.35},{"t":136,"s":"X","v":0.25},{"t":140,"s":"X","v":0.15},{"t":145,"s":"X","v":0.15},{"t":149,"s":"X","v":0.15},
{"t":0,"s":"Y","v":0.85},{"t":3,"s":"Y","v":0.7},{"t":6,"s":"Y","v":0.6},{"t":10,"s":"Y","v":0.65},{"t":15,"s":"Y","v":0.75},{"t":20,"s":"Y","v":0.8},{"t":25,"s":"Y","v":0.85},{"t":30,"s":"Y","v":1.05},{"t":34,"s":"Y","v":1.3},{"t":37,"s":"Y","v":1.6},{"t":39,"s":"Y","v":1.7},{"t":41,"s":"Y","v":1.6},{"t":44,"s":"Y","v":1.3},{"t":47,"s":"Y","v":1.05},{"t":50,"s":"Y","v":0.8},{"t":52,"s":"Y","v":0.55},{"t":54,"s":"Y","v":-0.35},{"t":56,"s":"Y","v":-1.15},{"t":58,"s":"Y","v":-1.8},{"t":60,"s":"Y","v":-2.3},{"t":62,"s":"Y","v":-2.85},{"t":64,"s":"Y","v":-3.3},{"t":66,"s":"Y","v":-3.75},{"t":68,"s":"Y","v":-4.15},{"t":70,"s":"Y","v":-4.45},{"t":72,"s":"Y","v":-4.5},{"t":74,"s":"Y","v":-4.45},{"t":76,"s":"Y","v":-4.15},{"t":78,"s":"Y","v":-3.75},{"t":80,"s":"Y","v":-3.3},{"t":82,"s":"Y","v":-2.95},{"t":84,"s":"Y","v":-2.55},{"t":86,"s":"Y","v":-2.1},{"t":88,"s":"Y","v":-1.65},{"t":90,"s":"Y","v":-1.2},{"t":92,"s":"Y","v":-0.6},{"t":94,"s":"Y","v":0.05},{"t":96,"s":"Y","v":0.55},{"t":98,"s":"Y","v":0.95},{"t":100,"s":"Y","v":1.3},{"t":102,"s":"Y","v":1.65},{"t":104,"s":"Y","v":2},{"t":106,"s":"Y","v":2.35},{"t":107,"s":"Y","v":2.4},{"t":108,"s":"Y","v":2.3},{"t":110,"s":"Y","v":1.7},{"t":112,"s":"Y","v":1.7},{"t":115,"s":"Y","v":1.8},{"t":118,"s":"Y","v":1.7},{"t":121,"s":"Y","v":1.6},{"t":124,"s":"Y","v":1.45},{"t":126,"s":"Y","v":1.45},{"t":128,"s":"Y","v":1.1},{"t":129,"s":"Y","v":0.85},{"t":131,"s":"Y","v":0.95},{"t":134,"s":"Y","v":1.05},{"t":137,"s":"Y","v":1.3},{"t":140,"s":"Y","v":1.4},{"t":143,"s":"Y","v":1.25},{"t":146,"s":"Y","v":1.1},{"t":149,"s":"Y","v":1.0},
{"t":0,"s":"Z","v":-0.25},{"t":3,"s":"Z","v":-0.05},{"t":6,"s":"Z","v":-0.25},{"t":9,"s":"Z","v":-0.1},{"t":12,"s":"Z","v":-0.2},{"t":15,"s":"Z","v":-0.05},{"t":18,"s":"Z","v":0.05},{"t":22,"s":"Z","v":0.1},{"t":26,"s":"Z","v":0.15},{"t":30,"s":"Z","v":0.3},{"t":34,"s":"Z","v":0.35},{"t":36,"s":"Z","v":0.55},{"t":38,"s":"Z","v":0.85},{"t":40,"s":"Z","v":1},{"t":41,"s":"Z","v":0.85},{"t":42,"s":"Z","v":0.35},{"t":43,"s":"Z","v":-0.25},{"t":44,"s":"Z","v":-0.75},{"t":45,"s":"Z","v":-1},{"t":46,"s":"Z","v":-1.05},{"t":48,"s":"Z","v":-0.75},{"t":50,"s":"Z","v":-0.55},{"t":52,"s":"Z","v":-0.6},{"t":54,"s":"Z","v":-0.95},{"t":56,"s":"Z","v":-1.05},{"t":58,"s":"Z","v":-0.75},{"t":60,"s":"Z","v":-0.7},{"t":62,"s":"Z","v":-0.25},{"t":64,"s":"Z","v":0.3},{"t":66,"s":"Z","v":0.4},{"t":68,"s":"Z","v":0.6},{"t":70,"s":"Z","v":0.65},{"t":72,"s":"Z","v":0.55},{"t":74,"s":"Z","v":0.25},{"t":76,"s":"Z","v":-0.25},{"t":78,"s":"Z","v":-0.5},{"t":80,"s":"Z","v":-0.55},{"t":82,"s":"Z","v":-0.45},{"t":84,"s":"Z","v":-0.35},{"t":86,"s":"Z","v":-0.3},{"t":88,"s":"Z","v":-0.25},{"t":90,"s":"Z","v":0.05},{"t":92,"s":"Z","v":-0.2},{"t":94,"s":"Z","v":-0.35},{"t":96,"s":"Z","v":-0.55},{"t":98,"s":"Z","v":-0.6},{"t":100,"s":"Z","v":-0.7},{"t":102,"s":"Z","v":-0.7},{"t":104,"s":"Z","v":-0.55},{"t":106,"s":"Z","v":-0.35},{"t":108,"s":"Z","v":-0.3},{"t":110,"s":"Z","v":-0.35},{"t":111,"s":"Z","v":-0.3},{"t":113,"s":"Z","v":0.65},{"t":114,"s":"Z","v":0.55},{"t":115,"s":"Z","v":0.15},{"t":116,"s":"Z","v":0.55},{"t":118,"s":"Z","v":0.95},{"t":119,"s":"Z","v":0.85},{"t":121,"s":"Z","v":0.4},{"t":122,"s":"Z","v":0.15},{"t":124,"s":"Z","v":0.4},{"t":126,"s":"Z","v":0.6},{"t":128,"s":"Z","v":0.1},{"t":130,"s":"Z","v":0.05},{"t":132,"s":"Z","v":-0.35},{"t":133,"s":"Z","v":-0.5},{"t":135,"s":"Z","v":-0.2},{"t":137,"s":"Z","v":0.05},{"t":140,"s":"Z","v":0.15},{"t":142,"s":"Z","v":0.3},{"t":144,"s":"Z","v":0.15},{"t":146,"s":"Z","v":0.1},{"t":149,"s":"Z","v":0.05}
],
"lj":[
{"t":0,"s":"hip_right","v":21},{"t":5,"s":"hip_right","v":25.7},{"t":10,"s":"hip_right","v":29.2},{"t":13,"s":"hip_right","v":30.5},{"t":15,"s":"hip_right","v":30.1},{"t":20,"s":"hip_right","v":26.6},{"t":25,"s":"hip_right","v":24.8},{"t":30,"s":"hip_right","v":25.2},{"t":35,"s":"hip_right","v":23.4},{"t":40,"s":"hip_right","v":21.8},{"t":45,"s":"hip_right","v":19.5},{"t":50,"s":"hip_right","v":16.4},{"t":55,"s":"hip_right","v":12.5},{"t":60,"s":"hip_right","v":8.1},{"t":65,"s":"hip_right","v":5.1},{"t":70,"s":"hip_right","v":2.6},{"t":75,"s":"hip_right","v":0.2},{"t":80,"s":"hip_right","v":-3.3},{"t":85,"s":"hip_right","v":-7.2},{"t":90,"s":"hip_right","v":-9.9},{"t":95,"s":"hip_right","v":-11.3},{"t":98,"s":"hip_right","v":-11.6},{"t":100,"s":"hip_right","v":-10.7},{"t":105,"s":"hip_right","v":-5.1},{"t":110,"s":"hip_right","v":1.6},{"t":115,"s":"hip_right","v":8.1},{"t":120,"s":"hip_right","v":14.6},{"t":125,"s":"hip_right","v":19.9},{"t":130,"s":"hip_right","v":24.5},{"t":135,"s":"hip_right","v":27.5},{"t":138,"s":"hip_right","v":28},{"t":140,"s":"hip_right","v":26.9},{"t":145,"s":"hip_right","v":23.1},{"t":149,"s":"hip_right","v":21.3},
{"t":0,"s":"knee_right","v":62.7},{"t":3,"s":"knee_right","v":61.4},{"t":5,"s":"knee_right","v":59.7},{"t":8,"s":"knee_right","v":55.6},{"t":10,"s":"knee_right","v":51.2},{"t":13,"s":"knee_right","v":42.4},{"t":15,"s":"knee_right","v":35.4},{"t":18,"s":"knee_right","v":21.3},{"t":20,"s":"knee_right","v":13.4},{"t":23,"s":"knee_right","v":6.3},{"t":25,"s":"knee_right","v":4},{"t":27,"s":"knee_right","v":5.5},{"t":30,"s":"knee_right","v":8.6},{"t":33,"s":"knee_right","v":9},{"t":35,"s":"knee_right","v":9.3},{"t":38,"s":"knee_right","v":13.4},{"t":40,"s":"knee_right","v":15.1},{"t":45,"s":"knee_right","v":14.8},{"t":50,"s":"knee_right","v":12.9},{"t":55,"s":"knee_right","v":9.9},{"t":60,"s":"knee_right","v":7.6},{"t":65,"s":"knee_right","v":6},{"t":70,"s":"knee_right","v":4.9},{"t":75,"s":"knee_right","v":4},{"t":80,"s":"knee_right","v":3.7},{"t":85,"s":"knee_right","v":3.7},{"t":88,"s":"knee_right","v":5.1},{"t":90,"s":"knee_right","v":7.2},{"t":95,"s":"knee_right","v":13.4},{"t":100,"s":"knee_right","v":23.1},{"t":105,"s":"knee_right","v":38},{"t":110,"s":"knee_right","v":50.4},{"t":115,"s":"knee_right","v":58.8},{"t":120,"s":"knee_right","v":62.7},{"t":123,"s":"knee_right","v":63},{"t":125,"s":"knee_right","v":62.7},{"t":130,"s":"knee_right","v":57.4},{"t":135,"s":"knee_right","v":47.7},{"t":140,"s":"knee_right","v":32.7},{"t":143,"s":"knee_right","v":20.4},{"t":145,"s":"knee_right","v":12.5},{"t":147,"s":"knee_right","v":7.2},{"t":149,"s":"knee_right","v":3.7},
{"t":0,"s":"hip_left","v":4.9},{"t":5,"s":"hip_left","v":1.9},{"t":10,"s":"hip_left","v":-0.7},{"t":15,"s":"hip_left","v":-3.3},{"t":20,"s":"hip_left","v":-7.7},{"t":25,"s":"hip_left","v":-10.9},{"t":30,"s":"hip_left","v":-12.7},{"t":32,"s":"hip_left","v":-13},{"t":35,"s":"hip_left","v":-12.1},{"t":40,"s":"hip_left","v":-8.3},{"t":45,"s":"hip_left","v":-0.2},{"t":50,"s":"hip_left","v":6.9},{"t":55,"s":"hip_left","v":13.4},{"t":60,"s":"hip_left","v":19.5},{"t":65,"s":"hip_left","v":24.8},{"t":70,"s":"hip_left","v":29.2},{"t":75,"s":"hip_left","v":31.5},{"t":77,"s":"hip_left","v":31.3},{"t":80,"s":"hip_left","v":29.2},{"t":85,"s":"hip_left","v":26.2},{"t":90,"s":"hip_left","v":26.2},{"t":95,"s":"hip_left","v":25.7},{"t":100,"s":"hip_left","v":23.4},{"t":105,"s":"hip_left","v":21},{"t":110,"s":"hip_left","v":17.8},{"t":115,"s":"hip_left","v":13.4},{"t":120,"s":"hip_left","v":8.1},{"t":125,"s":"hip_left","v":3.7},{"t":130,"s":"hip_left","v":0.5},{"t":135,"s":"hip_left","v":-2.5},{"t":140,"s":"hip_left","v":-5.5},{"t":145,"s":"hip_left","v":-9},{"t":149,"s":"hip_left","v":-11.3},
{"t":0,"s":"knee_left","v":11.1},{"t":5,"s":"knee_left","v":8.6},{"t":10,"s":"knee_left","v":7.2},{"t":15,"s":"knee_left","v":6.3},{"t":20,"s":"knee_left","v":5.8},{"t":25,"s":"knee_left","v":6.3},{"t":30,"s":"knee_left","v":9.3},{"t":35,"s":"knee_left","v":15.1},{"t":40,"s":"knee_left","v":26.6},{"t":45,"s":"knee_left","v":42.4},{"t":50,"s":"knee_left","v":53.9},{"t":55,"s":"knee_left","v":60.4},{"t":58,"s":"knee_left","v":62.1},{"t":60,"s":"knee_left","v":61.8},{"t":65,"s":"knee_left","v":57.4},{"t":70,"s":"knee_left","v":47.7},{"t":75,"s":"knee_left","v":33.6},{"t":80,"s":"knee_left","v":16},{"t":83,"s":"knee_left","v":6.3},{"t":85,"s":"knee_left","v":3.7},{"t":88,"s":"knee_left","v":4},{"t":90,"s":"knee_left","v":6.3},{"t":93,"s":"knee_left","v":8.6},{"t":95,"s":"knee_left","v":9.5},{"t":100,"s":"knee_left","v":12.5},{"t":103,"s":"knee_left","v":16},{"t":105,"s":"knee_left","v":17.8},{"t":110,"s":"knee_left","v":17.4},{"t":115,"s":"knee_left","v":16.4},{"t":120,"s":"knee_left","v":13.9},{"t":125,"s":"knee_left","v":10.7},{"t":130,"s":"knee_left","v":7.7},{"t":135,"s":"knee_left","v":5.5},{"t":140,"s":"knee_left","v":4.6},{"t":145,"s":"knee_left","v":5.5},{"t":149,"s":"knee_left","v":6.3}
],
"rj":[
{"t":0,"s":"hip_right","v":2.6},{"t":5,"s":"hip_right","v":3.5},{"t":10,"s":"hip_right","v":4.4},{"t":15,"s":"hip_right","v":5.2},{"t":20,"s":"hip_right","v":6.5},{"t":25,"s":"hip_right","v":8.7},{"t":30,"s":"hip_right","v":11.4},{"t":35,"s":"hip_right","v":14.9},{"t":40,"s":"hip_right","v":18.9},{"t":45,"s":"hip_right","v":22.7},{"t":50,"s":"hip_right","v":25.9},{"t":55,"s":"hip_right","v":27.1},{"t":60,"s":"hip_right","v":28.3},{"t":65,"s":"hip_right","v":28.8},{"t":70,"s":"hip_right","v":28},{"t":75,"s":"hip_right","v":25.3},{"t":80,"s":"hip_right","v":21},{"t":85,"s":"hip_right","v":15.7},{"t":90,"s":"hip_right","v":9.6},{"t":95,"s":"hip_right","v":3.5},{"t":100,"s":"hip_right","v":-1.7},{"t":105,"s":"hip_right","v":-5.2},{"t":110,"s":"hip_right","v":-6.5},{"t":113,"s":"hip_right","v":-6.5},{"t":115,"s":"hip_right","v":-6.1},{"t":120,"s":"hip_right","v":-3.5},{"t":125,"s":"hip_right","v":-0.9},{"t":130,"s":"hip_right","v":1.2},{"t":135,"s":"hip_right","v":2.3},{"t":140,"s":"hip_right","v":2.3},{"t":145,"s":"hip_right","v":2.3},{"t":149,"s":"hip_right","v":2.6},
{"t":0,"s":"knee_right","v":10.1},{"t":5,"s":"knee_right","v":9.1},{"t":10,"s":"knee_right","v":8.4},{"t":15,"s":"knee_right","v":7.9},{"t":20,"s":"knee_right","v":7.5},{"t":25,"s":"knee_right","v":7},{"t":30,"s":"knee_right","v":6.6},{"t":35,"s":"knee_right","v":6.1},{"t":40,"s":"knee_right","v":4.4},{"t":45,"s":"knee_right","v":3.8},{"t":50,"s":"knee_right","v":3.8},{"t":55,"s":"knee_right","v":5.2},{"t":58,"s":"knee_right","v":10.5},{"t":60,"s":"knee_right","v":14},{"t":63,"s":"knee_right","v":21.9},{"t":65,"s":"knee_right","v":28},{"t":70,"s":"knee_right","v":40.2},{"t":75,"s":"knee_right","v":49},{"t":80,"s":"knee_right","v":53.3},{"t":85,"s":"knee_right","v":54.7},{"t":88,"s":"knee_right","v":53.8},{"t":90,"s":"knee_right","v":52.4},{"t":95,"s":"knee_right","v":44.6},{"t":100,"s":"knee_right","v":33.2},{"t":105,"s":"knee_right","v":24.5},{"t":110,"s":"knee_right","v":20.1},{"t":115,"s":"knee_right","v":18.4},{"t":120,"s":"knee_right","v":17},{"t":125,"s":"knee_right","v":16.6},{"t":130,"s":"knee_right","v":16.3},{"t":135,"s":"knee_right","v":14.9},{"t":140,"s":"knee_right","v":12.2},{"t":145,"s":"knee_right","v":9.1},{"t":149,"s":"knee_right","v":7},
{"t":0,"s":"hip_left","v":29.4},{"t":5,"s":"hip_left","v":26.2},{"t":10,"s":"hip_left","v":21},{"t":15,"s":"hip_left","v":14},{"t":20,"s":"hip_left","v":7},{"t":25,"s":"hip_left","v":0.9},{"t":30,"s":"hip_left","v":-3.5},{"t":35,"s":"hip_left","v":-5.8},{"t":37,"s":"hip_left","v":-5.8},{"t":40,"s":"hip_left","v":-4.7},{"t":45,"s":"hip_left","v":-2.1},{"t":50,"s":"hip_left","v":0.9},{"t":55,"s":"hip_left","v":3.5},{"t":60,"s":"hip_left","v":5.2},{"t":65,"s":"hip_left","v":4.9},{"t":70,"s":"hip_left","v":4.4},{"t":75,"s":"hip_left","v":4.7},{"t":80,"s":"hip_left","v":5.2},{"t":85,"s":"hip_left","v":6.1},{"t":90,"s":"hip_left","v":7.9},{"t":95,"s":"hip_left","v":10.1},{"t":100,"s":"hip_left","v":13.1},{"t":105,"s":"hip_left","v":16.1},{"t":110,"s":"hip_left","v":19.6},{"t":115,"s":"hip_left","v":23.6},{"t":120,"s":"hip_left","v":27.1},{"t":125,"s":"hip_left","v":29.4},{"t":130,"s":"hip_left","v":30.9},{"t":135,"s":"hip_left","v":32.3},{"t":140,"s":"hip_left","v":32.9},{"t":145,"s":"hip_left","v":32.7},{"t":149,"s":"hip_left","v":32},
{"t":0,"s":"knee_left","v":43.7},{"t":3,"s":"knee_left","v":47.2},{"t":5,"s":"knee_left","v":49.8},{"t":8,"s":"knee_left","v":53.8},{"t":10,"s":"knee_left","v":55.6},{"t":13,"s":"knee_left","v":56.5},{"t":15,"s":"knee_left","v":55.9},{"t":20,"s":"knee_left","v":52.4},{"t":25,"s":"knee_left","v":45.5},{"t":30,"s":"knee_left","v":37.6},{"t":35,"s":"knee_left","v":29.7},{"t":40,"s":"knee_left","v":24.8},{"t":45,"s":"knee_left","v":22.2},{"t":50,"s":"knee_left","v":21},{"t":55,"s":"knee_left","v":21.5},{"t":60,"s":"knee_left","v":20.6},{"t":65,"s":"knee_left","v":17.5},{"t":70,"s":"knee_left","v":14.9},{"t":75,"s":"knee_left","v":13.1},{"t":80,"s":"knee_left","v":11.7},{"t":85,"s":"knee_left","v":10.8},{"t":90,"s":"knee_left","v":10.1},{"t":95,"s":"knee_left","v":9.6},{"t":100,"s":"knee_left","v":8.7},{"t":105,"s":"knee_left","v":7.9},{"t":110,"s":"knee_left","v":7.5},{"t":115,"s":"knee_left","v":7.9},{"t":120,"s":"knee_left","v":8.7},{"t":125,"s":"knee_left","v":9.6},{"t":130,"s":"knee_left","v":10.8},{"t":133,"s":"knee_left","v":14},{"t":135,"s":"knee_left","v":17.5},{"t":140,"s":"knee_left","v":25.4},{"t":145,"s":"knee_left","v":34.1},{"t":149,"s":"knee_left","v":39.3}
]
},
"hconcat":[
{"spacing":9,"resolve":{"scale":{"color":"independent"},"legend":{"color":"independent"}},"vconcat":[
{"width":438,"height":157,"title":{"text":"Accelerometer","offset":1},"data":{"name":"la"},
"mark":{"type":"line","strokeWidth":1.5},
"encoding":{
"x":{"field":"t","type":"quantitative","scale":{"domain":[-7.45,156.45],"nice":false,"zero":false},"axis":{"values":[0,20,40,60,80,100,120,140],"title":null}},
"y":{"field":"v","type":"quantitative","scale":{"domain":[-15,15],"nice":false},"axis":{"values":[-15,-10,-5,0,5,10,15],"title":"m/s2"}},
"color":{"field":"s","type":"nominal","scale":{"domain":["X","Y","Z"],"range":["#1f77b4","#ff7f0e","#2ca02c"]},"legend":{"title":null,"orient":"none","legendX":196,"legendY":94}}}},
{"spacing":12,"resolve":{"scale":{"color":"independent"},"legend":{"color":"independent"}},"vconcat":[
{"width":438,"height":154,"title":{"text":"Gyroscope","offset":3},"data":{"name":"lg"},
"mark":{"type":"line","strokeWidth":1.5,"interpolate":"monotone"},
"encoding":{
"x":{"field":"t","type":"quantitative","scale":{"domain":[-7.45,156.45],"nice":false,"zero":false},"axis":{"values":[0,20,40,60,80,100,120,140],"title":null}},
"y":{"field":"v","type":"quantitative","scale":{"domain":[-6,6],"nice":false},"axis":{"values":[-6,-4,-2,0,2,4,6],"title":"deg/s"}},
"color":{"field":"s","type":"nominal","scale":{"domain":["X","Y","Z"],"range":["#1f77b4","#ff7f0e","#2ca02c"]},"legend":{"title":null,"orient":"bottom-left"}}}},
{"width":438,"height":189,"title":{"text":"Joint angle","offset":4},"data":{"name":"lj"},
"mark":{"type":"line","strokeWidth":1.5,"interpolate":"monotone"},
"encoding":{
"x":{"field":"t","type":"quantitative","scale":{"domain":[-7.45,156.45],"nice":false,"zero":false},"axis":{"values":[0,20,40,60,80,100,120,140],"title":"No. Samples","labelFontSize":10}},
"y":{"field":"v","type":"quantitative","scale":{"domain":[-20,80],"nice":false},"axis":{"values":[-20,0,20,40,60,80],"title":"deg","labelFontSize":10}},
"color":{"field":"s","type":"nominal","scale":{"domain":["hip_right","knee_right","hip_left","knee_left"],"range":["#1f77b4","#ff7f0e","#2ca02c","#d62728"]},"legend":{"title":null,"orient":"top-left","symbolSize":196,"symbolType":"M-1.75,0H1.75","labelOffset":10,"rowPadding":1}}}}
]}
]},
{"spacing":17,"resolve":{"scale":{"color":"independent"},"legend":{"color":"independent"}},"hconcat":[
{"width":1,"height":600,"data":{"values":[{}]},"view":{"stroke":null},
"mark":{"type":"rule","color":"#444","strokeWidth":1},
"encoding":{"y":{"datum":0.943,"type":"quantitative","scale":{"domain":[0,1]},"axis":null},"y2":{"datum":0.065}}},
{"spacing":9,"resolve":{"scale":{"color":"independent"},"legend":{"color":"independent"}},"vconcat":[
{"width":434,"height":157,"title":{"text":"Accelerometer","offset":1},"data":{"name":"ra"},
"mark":{"type":"line","strokeWidth":1.5},
"encoding":{
"x":{"field":"t","type":"quantitative","scale":{"domain":[-7.45,154.1],"nice":false,"zero":false},"axis":{"values":[0,20,40,60,80,100,120,140],"title":null}},
"y":{"field":"v","type":"quantitative","scale":{"domain":[-15,15],"nice":false},"axis":{"values":[-15,-10,-5,0,5,10,15],"title":"m/s2"}},
"color":{"field":"s","type":"nominal","scale":{"domain":["X","Y","Z"],"range":["#1f77b4","#ff7f0e","#2ca02c"]},"legend":{"title":null,"orient":"top-left"}}}},
{"spacing":12,"resolve":{"scale":{"color":"independent"},"legend":{"color":"independent"}},"vconcat":[
{"width":434,"height":154,"title":{"text":"Gyroscope","offset":3},"data":{"name":"rg"},
"mark":{"type":"line","strokeWidth":1.5,"interpolate":"monotone"},
"encoding":{
"x":{"field":"t","type":"quantitative","scale":{"domain":[-7.45,154.1],"nice":false,"zero":false},"axis":{"values":[0,20,40,60,80,100,120,140],"title":null}},
"y":{"field":"v","type":"quantitative","scale":{"domain":[-6,6],"nice":false},"axis":{"values":[-6,-4,-2,0,2,4,6],"title":"deg/s"}},
"color":{"field":"s","type":"nominal","scale":{"domain":["X","Y","Z"],"range":["#1f77b4","#ff7f0e","#2ca02c"]},"legend":{"title":null,"orient":"top-left"}}}},
{"width":434,"height":189,"title":{"text":"Joint angle","offset":4},"data":{"name":"rj"},
"mark":{"type":"line","strokeWidth":1.5,"interpolate":"monotone"},
"encoding":{
"x":{"field":"t","type":"quantitative","scale":{"domain":[-7.45,154.1],"nice":false,"zero":false},"axis":{"values":[0,20,40,60,80,100,120,140],"title":"No. Samples","labelFontSize":10}},
"y":{"field":"v","type":"quantitative","scale":{"domain":[-20,80],"nice":false},"axis":{"values":[-20,0,20,40,60,80],"title":"deg","labelFontSize":10}},
"color":{"field":"s","type":"nominal","scale":{"domain":["hip_right","knee_right","hip_left","knee_left"],"range":["#1f77b4","#ff7f0e","#2ca02c","#d62728"]},"legend":{"title":null,"orient":"top-right","symbolSize":196,"symbolType":"M-1.75,0H1.75","labelOffset":10,"rowPadding":1}}}}
]}
]}
]}
],
"spacing":32,
"resolve":{"scale":{"color":"independent"},"legend":{"color":"independent"}}
}
